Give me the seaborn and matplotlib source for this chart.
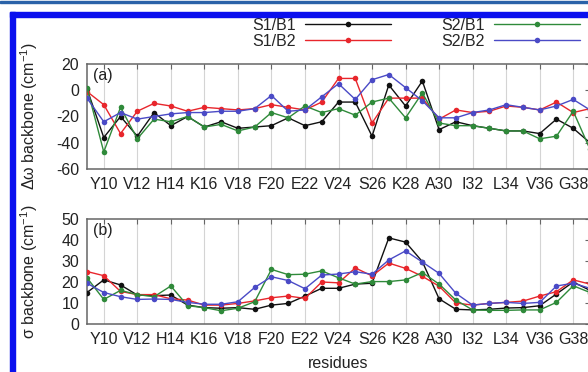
import matplotlib
matplotlib.use('Agg')
import matplotlib.pyplot as plt
from matplotlib.patches import Rectangle
import seaborn as sns
import pandas as pd

# Resíduos 9-39 e rótulos do eixo x (apenas os pares)
residuos = list(range(9, 40))
ticks_x = list(range(10, 39, 2))
rotulos_x = ['Y10', 'V12', 'H14', 'K16', 'V18', 'F20', 'E22', 'V24',
             'S26', 'K28', 'A30', 'I32', 'L34', 'V36', 'G38']

series = ['S1/B1', 'S1/B2', 'S2/B1', 'S2/B2']

# (a) deslocamento de frequência do backbone
dw_s1b1 = [1, -36, -20, -35, -17, -27, -20, -28, -24, -29, -28, -27, -21, -27, -24, -9,
           -9, -35, 4, -12, 7, -30, -24, -27, -29, -31, -31, -33, -22, -29, -40]
dw_s1b2 = [-1, -11, -33, -16, -10, -12, -16, -13, -14, -15, -14, -11, -13, -15, -9, 9,
           9, -25, -6, -6, -6, -22, -15, -17, -16, -12, -13, -15, -9, -17, -14]
dw_s2b1 = [2, -47, -13, -37, -22, -24, -20, -28, -26, -31, -28, -17, -21, -12, -17, -14,
           -19, -9, -6, -21, -2, -25, -27, -27, -29, -31, -31, -37, -35, -16, -45]
dw_s2b2 = [-6, -24, -17, -22, -20, -18, -17, -17, -16, -16, -14, -4, -16, -15, -5, 5,
           -7, 8, 12, 2, -8, -21, -21, -17, -15, -11, -13, -15, -12, -7, -15]

# (b) largura (sigma) do backbone
sg_s1b1 = [15, 21, 18.6, 13.8, 13.5, 13.8, 9, 7.8, 7.5, 7.8, 7, 9, 9.8, 13.3, 17, 17,
           19, 19.4, 41, 39, 29.7, 12, 7, 6.7, 7, 7.6, 7.8, 8.7, 14.3, 20, 16]
sg_s1b2 = [25, 23, 15.5, 14, 14, 12, 11.4, 9, 9, 9.8, 11, 12.5, 13.3, 12.2, 20, 19.6,
           26.7, 22.9, 29, 26.5, 22.7, 18, 10, 9, 9.8, 10.3, 10.9, 13.3, 15.4, 21, 19]
sg_s2b1 = [22, 11.7, 16, 14, 13, 18.1, 8.7, 7.8, 6.3, 7.5, 10.6, 26, 23.5, 23.7, 25.3, 22,
           19, 20.2, 20.2, 21, 24.5, 19, 11.4, 6.7, 6.5, 6.5, 6.7, 6.7, 10.3, 18.2, 15]
sg_s2b2 = [19.4, 15, 13, 11.7, 11.9, 11.7, 10.3, 9.4, 9.4, 10.6, 17.4, 22.5, 20.7, 16.8, 23.3, 23.8,
           24.9, 23.7, 30.5, 34.8, 29.5, 24.1, 14.6, 9, 9.8, 10.3, 9.8, 10.3, 18.1, 19.4, 17]

cores = {
    'S1/B1': '#111111',
    'S1/B2': '#e8262c',
    'S2/B1': '#2f8a3a',
    'S2/B2': '#4a4ac6'
}


def montar_df(valores):
    entries = []
    for nome, vals in zip(series, valores):
        for r, v in zip(residuos, vals):
            entries.append({'Residuo': r, 'Valor': v, 'Serie': nome})
    return pd.DataFrame(entries)


df_a = montar_df([dw_s1b1, dw_s1b2, dw_s2b1, dw_s2b2])
df_b = montar_df([sg_s1b1, sg_s1b2, sg_s2b1, sg_s2b2])

sns.set_style('white')
plt.rcParams['font.family'] = ['Liberation Sans', 'DejaVu Sans']
plt.rcParams['axes.unicode_minus'] = False
plt.rcParams['mathtext.fontset'] = 'custom'
plt.rcParams['mathtext.rm'] = 'Liberation Sans'
plt.rcParams['font.size'] = 11.5

W, H = 588, 372
fig = plt.figure(figsize=(W / 100, H / 100), dpi=100)
fig.patch.set_facecolor('white')


def px_axes(esq, topo, dir_, base):
    return fig.add_axes([esq / W, 1 - base / H, (dir_ - esq) / W, (base - topo) / H])


ax1 = px_axes(87, 64, 590, 169)
ax2 = px_axes(87, 219, 590, 324)

for ax, df, leg in [(ax1, df_a, True), (ax2, df_b, False)]:
    sns.lineplot(data=df, x='Residuo', y='Valor', hue='Serie', hue_order=series,
                 palette=cores, marker='o', markersize=4, markeredgewidth=0,
                 linewidth=1.0, errorbar=None, legend=leg, ax=ax, zorder=3)
    ax.set_xlim(9, 39)
    ax.set_xticks(ticks_x)
    ax.set_xticklabels(rotulos_x)
    ax.grid(axis='x', color='#d4d4d4', linewidth=0.8)
    ax.grid(axis='y', visible=False)
    ax.tick_params(direction='in', top=True, right=True, length=3.6, width=0.8,
                   color='#666666', labelsize=11.5, labelcolor='#222222')
    ax.tick_params(axis='x', pad=5.5)
    ax.tick_params(axis='y', pad=5.5)
    for sp in ax.spines.values():
        sp.set_color('#666666')
        sp.set_linewidth(1.1)
    ax.set_xlabel('')

ax1.set_ylim(-60, 20)
ax1.set_yticks([-60, -40, -20, 0, 20])
ax2.set_ylim(0, 50)
ax2.set_yticks([0, 10, 20, 30, 40, 50])

ax1.set_ylabel('Δω backbone (cm$^{-1}$)', color='#222222')
ax2.set_ylabel('σ backbone (cm$^{-1}$)', color='#222222')
ax1.yaxis.set_label_coords(-0.094, 0.5)
ax2.yaxis.set_label_coords(-0.094, 0.5)
ax2.set_xlabel('residues', color='#222222')
ax2.xaxis.set_label_coords(0.5, -0.305)

ax1.text(0.012, 0.895, '(a)', transform=ax1.transAxes, ha='left', va='center', color='#222222')
ax2.text(0.012, 0.895, '(b)', transform=ax2.transAxes, ha='left', va='center', color='#222222')

# Legenda no topo, texto antes da linha (estilo gnuplot)
handles, labels = ax1.get_legend_handles_labels()
ax1.get_legend().remove()
fig.legend(handles, labels, ncol=2, markerfirst=False, frameon=False,
           loc='upper left', bbox_to_anchor=(252 / W, 1 - 18 / H),
           borderpad=0, borderaxespad=0, handlelength=5.4, handletextpad=0.6,
           columnspacing=3.1, labelspacing=0.05, fontsize=11.5)

# Moldura azul do recorte
fig.patches.append(Rectangle((0, 1 - 3 / H), 1, 2 / H, transform=fig.transFigure,
                             color='#2a62a8', zorder=10))
fig.patches.append(Rectangle((10 / W, 1 - 17 / H), 1, 5 / H, transform=fig.transFigure,
                             color='#0a10ee', zorder=10))
fig.patches.append(Rectangle((10 / W, 0), 5 / W, 1 - 12 / H, transform=fig.transFigure,
                             color='#0a10ee', zorder=10))

fig.savefig('out.png', dpi=100)
